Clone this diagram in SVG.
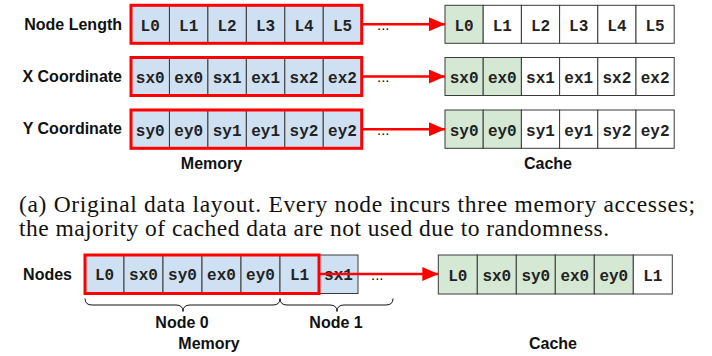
<svg xmlns="http://www.w3.org/2000/svg" width="712" height="356" viewBox="0 0 712 356">
<style>
.bg{fill:#ffffff}
.mem{fill:#cfe0f2;stroke:#3a3a3a;stroke-width:1}
.hit{fill:#d5e8d4;stroke:#3a3a3a;stroke-width:1}
.blank{fill:#ffffff;stroke:#3a3a3a;stroke-width:1}
.sel{fill:none;stroke:#ff0000;stroke-width:3}
.ct{font-family:"Liberation Mono","Courier New",monospace;font-weight:bold;font-size:16px;fill:#222;text-anchor:middle}
.lbl{font-family:"Liberation Sans",Arial,sans-serif;font-weight:bold;font-size:16px;fill:#111}
.r{text-anchor:end}
.m{text-anchor:middle}
.cap{font-family:"Liberation Serif","Times New Roman",serif;font-size:23.5px;fill:#111}
.dots{font-family:"Liberation Sans",Arial,sans-serif;font-size:15px;fill:#111}
.arr{stroke:#ff0000;stroke-width:2.5;fill:none}
.brace{stroke:#111;stroke-width:1;fill:none}
</style>
<defs>
<marker id="ah" viewBox="0 0 16 14" refX="16" refY="7" markerWidth="16" markerHeight="14" markerUnits="userSpaceOnUse" orient="auto">
<path d="M0,0 L16,7 L0,14 Z" fill="#ff0000"/>
</marker>
</defs>
<rect class="bg" x="0" y="0" width="712" height="356"/>

<g id="labels">
<text class="lbl r" x="122" y="29.5">Node Length</text>
<text class="lbl r" x="122" y="81.5">X Coordinate</text>
<text class="lbl r" x="122" y="133.5">Y Coordinate</text>
<text class="lbl m" x="211.5" y="169">Memory</text>
<text class="lbl m" x="548" y="169">Cache</text>
<text class="lbl r" x="72" y="279.5">Nodes</text>
<text class="lbl m" x="182" y="328">Node 0</text>
<text class="lbl m" x="336" y="328">Node 1</text>
<text class="lbl m" x="209" y="348.5">Memory</text>
<text class="lbl m" x="553" y="348.5">Cache</text>
</g>

<g id="mem-length">
<rect class="mem" x="131" y="5.3" width="38.45" height="38"/>
<rect class="mem" x="169.45" y="5.3" width="38.45" height="38"/>
<rect class="mem" x="207.9" y="5.3" width="38.45" height="38"/>
<rect class="mem" x="246.35" y="5.3" width="38.45" height="38"/>
<rect class="mem" x="284.8" y="5.3" width="38.45" height="38"/>
<rect class="mem" x="323.25" y="5.3" width="38.45" height="38"/>
<rect class="sel" x="131" y="5.3" width="230.7" height="38"/>
<text class="ct" x="150.2" y="30.8">L0</text>
<text class="ct" x="188.7" y="30.8">L1</text>
<text class="ct" x="227.1" y="30.8">L2</text>
<text class="ct" x="265.6" y="30.8">L3</text>
<text class="ct" x="304" y="30.8">L4</text>
<text class="ct" x="342.5" y="30.8">L5</text>
<text class="dots" x="377" y="30">...</text>
</g>

<g id="mem-x">
<rect class="mem" x="131" y="57.5" width="38.45" height="38"/>
<rect class="mem" x="169.45" y="57.5" width="38.45" height="38"/>
<rect class="mem" x="207.9" y="57.5" width="38.45" height="38"/>
<rect class="mem" x="246.35" y="57.5" width="38.45" height="38"/>
<rect class="mem" x="284.8" y="57.5" width="38.45" height="38"/>
<rect class="mem" x="323.25" y="57.5" width="38.45" height="38"/>
<rect class="sel" x="131" y="57.5" width="230.7" height="38"/>
<text class="ct" x="150.2" y="83">sx0</text>
<text class="ct" x="188.7" y="83">ex0</text>
<text class="ct" x="227.1" y="83">sx1</text>
<text class="ct" x="265.6" y="83">ex1</text>
<text class="ct" x="304" y="83">sx2</text>
<text class="ct" x="342.5" y="83">ex2</text>
<text class="dots" x="377" y="82">...</text>
</g>

<g id="mem-y">
<rect class="mem" x="131" y="110" width="38.45" height="38.3"/>
<rect class="mem" x="169.45" y="110" width="38.45" height="38.3"/>
<rect class="mem" x="207.9" y="110" width="38.45" height="38.3"/>
<rect class="mem" x="246.35" y="110" width="38.45" height="38.3"/>
<rect class="mem" x="284.8" y="110" width="38.45" height="38.3"/>
<rect class="mem" x="323.25" y="110" width="38.45" height="38.3"/>
<rect class="sel" x="131" y="110" width="230.7" height="38.3"/>
<text class="ct" x="150.2" y="135.5">sy0</text>
<text class="ct" x="188.7" y="135.5">ey0</text>
<text class="ct" x="227.1" y="135.5">sy1</text>
<text class="ct" x="265.6" y="135.5">ey1</text>
<text class="ct" x="304" y="135.5">sy2</text>
<text class="ct" x="342.5" y="135.5">ey2</text>
<text class="dots" x="377" y="134.5">...</text>
</g>

<g id="cache-length">
<rect class="hit" x="445" y="5.3" width="38.2" height="38"/>
<rect class="blank" x="483.2" y="5.3" width="38.2" height="38"/>
<rect class="blank" x="521.4" y="5.3" width="38.2" height="38"/>
<rect class="blank" x="559.6" y="5.3" width="38.2" height="38"/>
<rect class="blank" x="597.8" y="5.3" width="38.2" height="38"/>
<rect class="blank" x="636" y="5.3" width="38.2" height="38"/>
<text class="ct" x="464.1" y="30.8">L0</text>
<text class="ct" x="502.3" y="30.8">L1</text>
<text class="ct" x="540.5" y="30.8">L2</text>
<text class="ct" x="578.7" y="30.8">L3</text>
<text class="ct" x="616.9" y="30.8">L4</text>
<text class="ct" x="655.1" y="30.8">L5</text>
</g>

<g id="cache-x">
<rect class="hit" x="445" y="57.5" width="38.2" height="38"/>
<rect class="hit" x="483.2" y="57.5" width="38.2" height="38"/>
<rect class="blank" x="521.4" y="57.5" width="38.2" height="38"/>
<rect class="blank" x="559.6" y="57.5" width="38.2" height="38"/>
<rect class="blank" x="597.8" y="57.5" width="38.2" height="38"/>
<rect class="blank" x="636" y="57.5" width="38.2" height="38"/>
<text class="ct" x="464.1" y="83">sx0</text>
<text class="ct" x="502.3" y="83">ex0</text>
<text class="ct" x="540.5" y="83">sx1</text>
<text class="ct" x="578.7" y="83">ex1</text>
<text class="ct" x="616.9" y="83">sx2</text>
<text class="ct" x="655.1" y="83">ex2</text>
</g>

<g id="cache-y">
<rect class="hit" x="445" y="110" width="38.2" height="38.3"/>
<rect class="hit" x="483.2" y="110" width="38.2" height="38.3"/>
<rect class="blank" x="521.4" y="110" width="38.2" height="38.3"/>
<rect class="blank" x="559.6" y="110" width="38.2" height="38.3"/>
<rect class="blank" x="597.8" y="110" width="38.2" height="38.3"/>
<rect class="blank" x="636" y="110" width="38.2" height="38.3"/>
<text class="ct" x="464.1" y="135.5">sy0</text>
<text class="ct" x="502.3" y="135.5">ey0</text>
<text class="ct" x="540.5" y="135.5">sy1</text>
<text class="ct" x="578.7" y="135.5">ey1</text>
<text class="ct" x="616.9" y="135.5">sy2</text>
<text class="ct" x="655.1" y="135.5">ey2</text>
</g>

<g id="caption">
<text class="cap" x="19" y="211.5" textLength="676" lengthAdjust="spacing">(a) Original data layout. Every node incurs three memory accesses;</text>
<text class="cap" x="19" y="235.5" textLength="590" lengthAdjust="spacing">the majority of cached data are not used due to randomness.</text>
</g>

<g id="mem-nodes">
<rect class="mem" x="85" y="255" width="39" height="38.5"/>
<rect class="mem" x="124" y="255" width="39" height="38.5"/>
<rect class="mem" x="163" y="255" width="39" height="38.5"/>
<rect class="mem" x="202" y="255" width="39" height="38.5"/>
<rect class="mem" x="241" y="255" width="39" height="38.5"/>
<rect class="mem" x="280" y="255" width="39" height="38.5"/>
<rect class="mem" x="319" y="255" width="39" height="38.5"/>
<text class="ct" x="104.5" y="280">L0</text>
<text class="ct" x="143.5" y="280">sx0</text>
<text class="ct" x="182.5" y="280">sy0</text>
<text class="ct" x="221.5" y="280">ex0</text>
<text class="ct" x="260.5" y="280">ey0</text>
<text class="ct" x="299.5" y="280">L1</text>
<text class="ct" x="338.5" y="280">sx1</text>
<text class="dots" x="371" y="280">...</text>
<rect class="sel" x="85" y="255" width="234" height="38.5"/>
</g>

<g id="braces">
<path class="brace" d="M85,298.5 Q85,305 92,305 L176,305 Q183,305 183,311.5 Q183,305 190,305 L273,305 Q280,305 280,298.5"/>
<path class="brace" d="M280,298.5 Q280,305 287,305 L330,305 Q337,305 337,311.5 Q337,305 344,305 L386,305 Q393,305 393,298.5"/>
</g>

<g id="cache-nodes">
<rect class="hit" x="438.3" y="255" width="39" height="39"/>
<rect class="hit" x="477.3" y="255" width="39" height="39"/>
<rect class="hit" x="516.3" y="255" width="39" height="39"/>
<rect class="hit" x="555.3" y="255" width="39" height="39"/>
<rect class="hit" x="594.3" y="255" width="39" height="39"/>
<rect class="blank" x="633.3" y="255" width="39" height="39"/>
<text class="ct" x="457.8" y="280.5">L0</text>
<text class="ct" x="496.8" y="280.5">sx0</text>
<text class="ct" x="535.8" y="280.5">sy0</text>
<text class="ct" x="574.8" y="280.5">ex0</text>
<text class="ct" x="613.8" y="280.5">ey0</text>
<text class="ct" x="652.8" y="280.5">L1</text>
</g>

<g id="connectors">
<line class="arr" x1="363" y1="24.3" x2="445" y2="24.3" marker-end="url(#ah)"/>
<line class="arr" x1="363" y1="76.5" x2="445" y2="76.5" marker-end="url(#ah)"/>
<line class="arr" x1="363" y1="129.2" x2="445" y2="129.2" marker-end="url(#ah)"/>
<line class="arr" x1="320" y1="274" x2="438.3" y2="274" marker-end="url(#ah)"/>
</g>
</svg>
